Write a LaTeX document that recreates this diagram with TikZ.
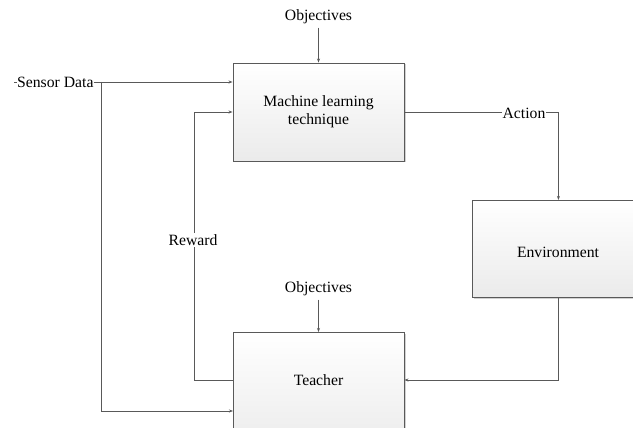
\documentclass[tikz,border=0pt]{standalone}
\usepackage{fontspec}
\setmainfont{Liberation Serif}
\usetikzlibrary{arrows.meta,shadows}
\begin{document}
\begin{tikzpicture}[x=1pt,y=-1pt,
  font=\fontsize{15.7}{18}\selectfont,
  block/.style={draw=black!65, line width=0.9pt, top color=white, bottom color=black!8,
    drop shadow={shadow xshift=1.5pt, shadow yshift=-1.5pt, fill=black!30, opacity=0.6},
    align=center, inner sep=0pt},
  wire/.style={draw=black!65, line width=0.9pt},
  arr/.style={wire, -{Stealth[length=4pt,width=3pt]}},
  tag/.style={fill=white, inner sep=1pt}]
\useasboundingbox (0,0) rectangle (633,428);
\clip (0,0) rectangle (633,428);

% blocks
\node[block, minimum width=171, minimum height=98] (ml) at (318.5,112) {Machine learning\\technique};
\node[block, minimum width=172, minimum height=97, anchor=north west] (env) at (472,200) {};
\node (envtext) at (558,252) {Environment};
\node[block, minimum width=171, minimum height=120, anchor=north] (teacher) at (318.5,332) {};
\node (teachertext) at (318.5,380) {Teacher};

% labels
\node (obj1) at (318.5,17) {Objectives};
\node (obj2) at (318.5,289) {Objectives};
\node[anchor=west, inner sep=0pt] (sensor) at (17,82) {Sensor Data};
\coordinate (sensorstub) at (14,82);
\coordinate (split) at (101,82);
\coordinate (sensorin) at (233,411);
\coordinate (rewardbend) at (194,112);

% connectors
\draw[wire, line width=0.6pt] (sensorstub) -- (sensor.west);
\draw[arr] (obj1.south) -- (ml.north);
\draw[arr] (obj2.south) -- (teacher.north);
\draw[arr] (sensor.east |- split) -- (ml.west |- split);
\draw[arr] (split) |- (sensorin);
\draw[arr] (ml.east) -| (env.north);
\draw[arr] (env.south) |- (teacher.east |- teachertext);
\draw[arr] (teacher.west |- teachertext) -| (rewardbend) -- (ml.west);

% labels sitting on the wires
\node[tag] (action) at (524,113) {Action};
\node[tag] (reward) at (193,240) {Reward};
\end{tikzpicture}
\end{document}
